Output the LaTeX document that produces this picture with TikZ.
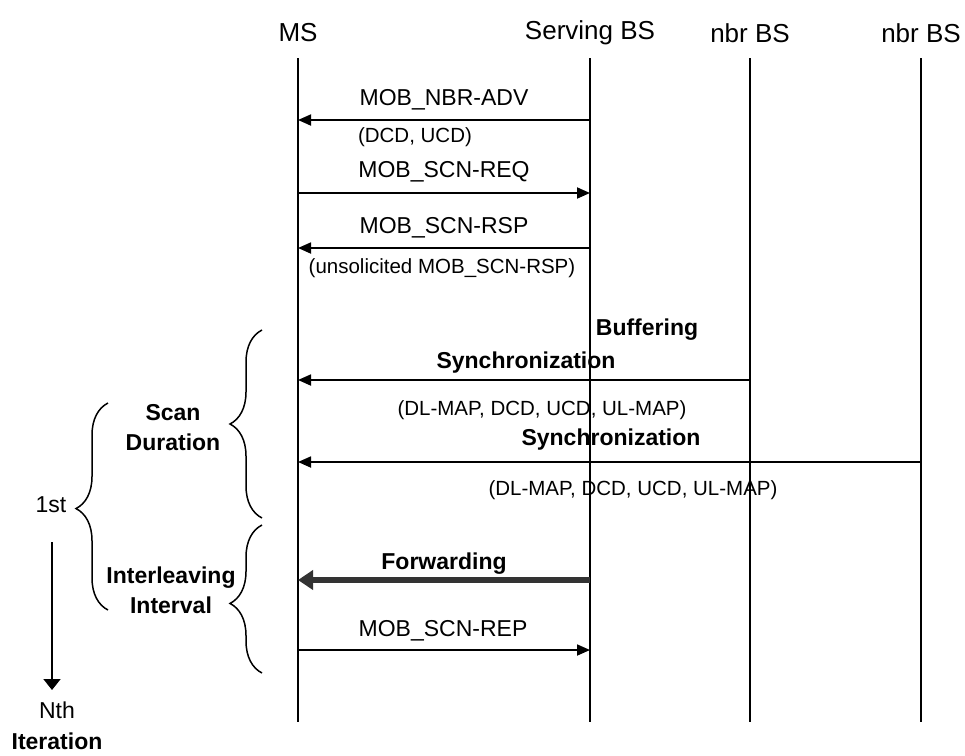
\documentclass[tikz,border=0pt]{standalone}
\usepackage{fontspec}
\setmainfont{Liberation Sans}
\usetikzlibrary{positioning,arrows.meta,decorations.pathreplacing}

\begin{document}
\begin{tikzpicture}[x=1pt,y=-1pt,
  head/.style={font=\fontsize{26}{28}\selectfont},
  msglabel/.style={font=\fontsize{23}{26}\selectfont},
  paramlabel/.style={font=\fontsize{20.5}{23}\selectfont},
  phase/.style={font=\bfseries\fontsize{23}{30}\selectfont,align=center},
  lifeline/.style={line width=2pt},
  msg/.style={line width=1.8pt,-{Triangle[length=13pt,width=11pt]}},
  fwd/.style={line width=6pt,black!80,-{Triangle[length=15pt,width=19pt]}},
  curly/.style={line width=1.5pt,decorate,decoration={brace,amplitude=32pt,aspect=#1}},
  curly/.default=0.5]
  \useasboundingbox (0,0) rectangle (965,755);
  % lifelines
  \foreach \lname/\lx/\ltext in {ms/298/MS,sbs/590/Serving BS,nbra/750/nbr BS,nbrb/921/nbr BS} {
    \node[head] (\lname) at (\lx,33) {\ltext};
    \coordinate (\lname-top) at (\lx,58);
    \coordinate (\lname-bot) at (\lx,722);
    \draw[lifeline] (\lname-top) -- (\lname-bot);
  }
  % message end points on the lifelines
  \foreach \mname/\mfrom/\mto/\my in {adv/sbs/ms/120,req/ms/sbs/193,rsp/sbs/ms/248,
      synca/nbra/ms/380,syncb/nbrb/ms/462,fwdg/sbs/ms/580,rep/ms/sbs/650} {
    \coordinate (\mname-a) at (\mfrom-top |- 0,\my);
    \coordinate (\mname-b) at (\mto-top |- 0,\my);
  }
  \draw[msg] (adv-a) -- (adv-b);
  \node[msglabel] (adv-lbl) at (444,100) {MOB\_NBR-ADV};
  \node[paramlabel] (adv-par) at (415,137) {(DCD, UCD)};
  \draw[msg] (req-a) -- (req-b);
  \node[msglabel] (req-lbl) at (444,172) {MOB\_SCN-REQ};
  \draw[msg] (rsp-a) -- (rsp-b);
  \node[msglabel] (rsp-lbl) at (444,228) {MOB\_SCN-RSP};
  \node[paramlabel] (rsp-par) at (442,268) {(unsolicited MOB\_SCN-RSP)};
  \node[phase] (buf) at (647,330) {Buffering};
  \draw[msg] (synca-a) -- (synca-b);
  \node[phase] (synca-lbl) at (526,363) {Synchronization};
  \node[paramlabel] (synca-par) at (542,410) {(DL-MAP, DCD, UCD, UL-MAP)};
  \draw[msg] (syncb-a) -- (syncb-b);
  \node[phase] (syncb-lbl) at (611,440) {Synchronization};
  \node[paramlabel] (syncb-par) at (633,490) {(DL-MAP, DCD, UCD, UL-MAP)};
  \draw[fwd] (fwdg-a) -- (fwdg-b);
  \node[phase] (fwdg-lbl) at (444,564) {Forwarding};
  \draw[msg] (rep-a) -- (rep-b);
  \node[msglabel] (rep-lbl) at (443,631) {MOB\_SCN-REP};
  % braces
  \coordinate (scan-top) at (262,330);
  \coordinate (scan-bot) at (262,518);
  \coordinate (intl-top) at (262,525);
  \coordinate (intl-bot) at (262,673);
  \coordinate (iter-top) at (108,403);
  \coordinate (iter-bot) at (108,610);
  \draw[curly] (scan-bot) -- (scan-top);
  \draw[curly=0.47] (intl-bot) -- (intl-top);
  \draw[curly=0.49] (iter-bot) -- (iter-top);
  \node[phase] (scan) at (173,428) {Scan\\Duration};
  \node[phase] (intl) at (171,590) {Interleaving\\Interval};
  \node[msglabel] (first) at (51,505) {1st};
  \node[msglabel] (nth) at (57,710) {Nth};
  \node[phase] (iter) at (57,741) {Iteration};
  \coordinate (run-start) at (52,542);
  \coordinate (run-end) at (52,690);
  \draw[line width=1.8pt,-{Triangle[length=11pt,width=17pt]}] (run-start) -- (run-end);
\end{tikzpicture}
\end{document}
